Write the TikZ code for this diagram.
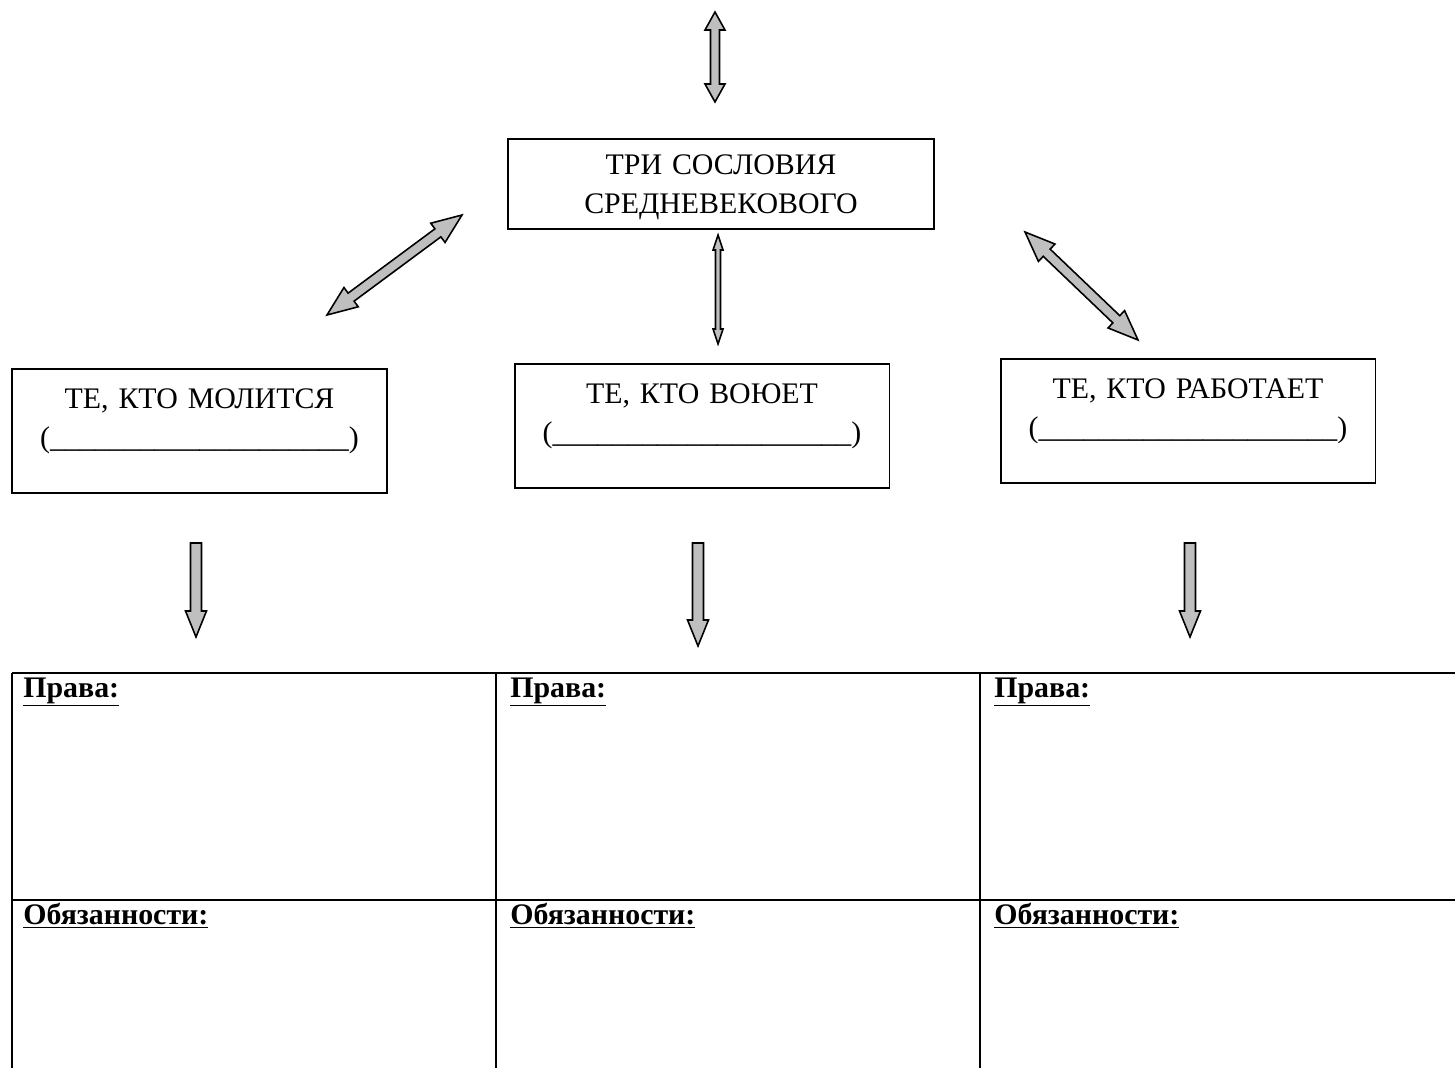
\documentclass[tikz,border=0pt]{standalone}
\usepackage{fontspec}
\setmainfont{Liberation Serif}
\usetikzlibrary{calc}

\newcommand{\diagfont}{\fontsize{17pt}{22pt}\selectfont}
\newcommand{\blank}{(\_\_\_\_\_\_\_\_\_\_\_\_\_\_\_\_\_\_\_\_)}

% block arrow with two heads: start, end, head length, head half width, shaft half width
\newcommand{\dblblk}[5]{%
    \draw[blkarrow] (#1)
        -- ($(#1)!#3!(#2)!#4!90:(#2)$) -- ($(#1)!#3!(#2)!#5!90:(#2)$)
        -- ($(#2)!#3!(#1)!#5!-90:(#1)$) -- ($(#2)!#3!(#1)!#4!-90:(#1)$)
        -- (#2)
        -- ($(#2)!#3!(#1)!#4!90:(#1)$) -- ($(#2)!#3!(#1)!#5!90:(#1)$)
        -- ($(#1)!#3!(#2)!#5!-90:(#2)$) -- ($(#1)!#3!(#2)!#4!-90:(#2)$)
        -- cycle;
}
% block arrow with one head at the end
\newcommand{\sglblk}[5]{%
    \draw[blkarrow] ($(#1)!#5!90:(#2)$)
        -- ($(#2)!#3!(#1)!#5!-90:(#1)$) -- ($(#2)!#3!(#1)!#4!-90:(#1)$)
        -- (#2)
        -- ($(#2)!#3!(#1)!#4!90:(#1)$) -- ($(#2)!#3!(#1)!#5!90:(#1)$)
        -- ($(#1)!#5!-90:(#2)$)
        -- cycle;
}

\tikzset{
    estate/.style={draw, line width=1.1pt, align=center, text width=7.5cm, inner xsep=0pt, inner ysep=0pt,
        text height=0.8cm, text depth=1.68cm, anchor=north},
    blkarrow/.style={draw=black, line width=0.9pt, fill=gray!50, line join=miter},
    tableline/.style={line width=1.6pt},
    cellhead/.style={anchor=base west, inner sep=0pt, font=\diagfont\bfseries}
}

\begin{document}
\begin{tikzpicture}[x=0.02cm, y=-0.02cm, every node/.append style={font=\diagfont}]
    \useasboundingbox (0,0) rectangle (1455,1068);

    \node[estate, text width=8.52cm, text height=0.72cm, text depth=1.08cm] (estates) at (721,138)
        {ТРИ СОСЛОВИЯ\\СРЕДНЕВЕКОВОГО};
    \node[estate] (clergy) at (199.5,368) {ТЕ, КТО МОЛИТСЯ\\\blank};
    \node[estate] (knights) at (702,363) {ТЕ, КТО ВОЮЕТ\\\blank};
    \node[estate] (peasants) at (1188,358) {ТЕ, КТО РАБОТАЕТ\\\blank};

    % arrow ends
    \coordinate (topUp) at (715,12);
    \coordinate (topDn) at (715,102);
    \coordinate (leftLo) at (327,315);
    \coordinate (leftHi) at (462,215);
    \coordinate (midUp) at (718,235);
    \coordinate (midDn) at (718,344);
    \coordinate (rightHi) at (1025,232);
    \coordinate (rightLo) at (1138,340);
    \coordinate (downAtop) at (196,543);
    \coordinate (downAtip) at (196,637);
    \coordinate (downBtop) at (698,543);
    \coordinate (downBtip) at (698,646);
    \coordinate (downCtop) at (1190,543);
    \coordinate (downCtip) at (1190,637);

    \dblblk{topUp}{topDn}{0.36cm}{0.2cm}{0.09cm}
    \dblblk{leftLo}{leftHi}{0.6cm}{0.24cm}{0.1cm}
    \dblblk{midUp}{midDn}{0.3cm}{0.1cm}{0.05cm}
    \dblblk{rightHi}{rightLo}{0.6cm}{0.24cm}{0.1cm}
    \sglblk{downAtop}{downAtip}{0.52cm}{0.21cm}{0.11cm}
    \sglblk{downBtop}{downBtip}{0.52cm}{0.21cm}{0.11cm}
    \sglblk{downCtop}{downCtip}{0.52cm}{0.21cm}{0.11cm}

    % table
    \draw[tableline] (12,673) -- (1455,673);
    \draw[tableline] (12,900) -- (1455,900);
    \foreach \x in {12,496,980}
        \draw[tableline] (\x,673) -- (\x,1068);

    \node[cellhead] (rightsA) at (23,697) {\underline{Права:}};
    \node[cellhead] (rightsB) at (510,697) {\underline{Права:}};
    \node[cellhead] (rightsC) at (994,697) {\underline{Права:}};
    \node[cellhead] (dutiesA) at (23,924) {\underline{Обязанности:}};
    \node[cellhead] (dutiesB) at (510,924) {\underline{Обязанности:}};
    \node[cellhead] (dutiesC) at (994,924) {\underline{Обязанности:}};
\end{tikzpicture}
\end{document}
